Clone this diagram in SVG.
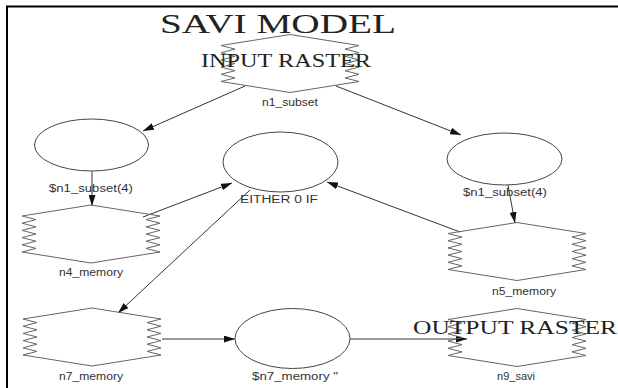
<svg xmlns="http://www.w3.org/2000/svg" xmlns:xlink="http://www.w3.org/1999/xlink" width="618" height="388" viewBox="0 0 618 388">
<style>
.frame{stroke:#000;stroke-width:2;fill:none}
.hex{fill:none;stroke:#666;stroke-width:1}
.ell{fill:none;stroke:#444;stroke-width:1}
.edge{fill:none;stroke:#333;stroke-width:1}
.big{font-family:"Liberation Serif","Times New Roman",serif;fill:#222}
.lbl{font-family:"Liberation Sans",Arial,sans-serif;font-size:10px;fill:#333;text-anchor:middle}
</style>
<defs>
<path id="hexshape" d="M0,-29 L69,-18 L55,-14.4 L69,-10.8 L55,-7.2 L69,-3.6 L55,0 L69,3.6 L55,7.2 L69,10.8 L55,14.4 L69,18 L0,29 L-69,18 L-55,14.4 L-69,10.8 L-55,7.2 L-69,3.6 L-55,0 L-69,-3.6 L-55,-7.2 L-69,-10.8 L-55,-14.4 L-69,-18 Z"/>
<marker id="arr" markerUnits="userSpaceOnUse" markerWidth="12" markerHeight="7" refX="11" refY="3.5" orient="auto">
<path d="M0,0 L11,3.5 L0,7 Z" fill="#111"/>
</marker>
</defs>
<rect width="618" height="388" fill="#fff"/>
<path class="frame" d="M7,388 L7,6.5 L618,6.5"/>
<text class="big" x="160" y="33" font-size="28" textLength="236" lengthAdjust="spacingAndGlyphs">SAVI MODEL</text>

<g id="connectors">
<line class="edge" x1="245" y1="86" x2="143" y2="131" marker-end="url(#arr)"/>
<line class="edge" x1="336" y1="86" x2="461" y2="135" marker-end="url(#arr)"/>
<line class="edge" x1="92" y1="171" x2="92" y2="206" marker-end="url(#arr)"/>
<line class="edge" x1="143" y1="217" x2="232" y2="183" marker-end="url(#arr)"/>
<line class="edge" x1="508" y1="185" x2="515" y2="223" marker-end="url(#arr)"/>
<line class="edge" x1="460" y1="232" x2="327" y2="182" marker-end="url(#arr)"/>
<line class="edge" x1="250" y1="190" x2="118" y2="313" marker-end="url(#arr)"/>
<line class="edge" x1="162" y1="339" x2="235" y2="339" marker-end="url(#arr)"/>
<line class="edge" x1="350" y1="339" x2="467" y2="339" marker-end="url(#arr)"/>
</g>

<g id="n1_subset">
<use xlink:href="#hexshape" class="hex" x="290" y="63.5"/>
<text class="big" x="201" y="67" font-size="18" textLength="170" lengthAdjust="spacingAndGlyphs">INPUT RASTER</text>
<text class="lbl" x="290" y="106" textLength="56" lengthAdjust="spacingAndGlyphs">n1_subset</text>
</g>

<g id="n2">
<ellipse class="ell" cx="91.5" cy="145" rx="57" ry="26"/>
<text class="lbl" x="91" y="192" textLength="84" lengthAdjust="spacingAndGlyphs">$n1_subset(4)</text>
</g>

<g id="n3">
<ellipse class="ell" cx="504.5" cy="159" rx="57.5" ry="26"/>
<text class="lbl" x="505" y="196" textLength="84" lengthAdjust="spacingAndGlyphs">$n1_subset(4)</text>
</g>

<g id="n6">
<ellipse class="ell" cx="280.5" cy="162" rx="57.5" ry="30"/>
<text class="lbl" x="279" y="203" textLength="78" lengthAdjust="spacingAndGlyphs">EITHER 0 IF</text>
</g>

<g id="n4_memory">
<use xlink:href="#hexshape" class="hex" x="91" y="234"/>
<text class="lbl" x="91" y="276" textLength="64" lengthAdjust="spacingAndGlyphs">n4_memory</text>
</g>

<g id="n5_memory">
<use xlink:href="#hexshape" class="hex" x="517" y="251.5"/>
<text class="lbl" x="524" y="295" textLength="64" lengthAdjust="spacingAndGlyphs">n5_memory</text>
</g>

<g id="n7_memory">
<use xlink:href="#hexshape" class="hex" x="92" y="337"/>
<text class="lbl" x="91" y="380" textLength="64" lengthAdjust="spacingAndGlyphs">n7_memory</text>
</g>

<g id="n8">
<ellipse class="ell" cx="292.5" cy="338.5" rx="57.5" ry="30"/>
<text class="lbl" x="295" y="380" textLength="86" lengthAdjust="spacingAndGlyphs">$n7_memory "</text>
</g>

<g id="n9_savi">
<use xlink:href="#hexshape" class="hex" x="517" y="337.5"/>
<text class="big" x="413" y="334" font-size="18" textLength="204" lengthAdjust="spacingAndGlyphs">OUTPUT RASTER</text>
<text class="lbl" x="516" y="380" textLength="38" lengthAdjust="spacingAndGlyphs">n9_savi</text>
</g>
</svg>
